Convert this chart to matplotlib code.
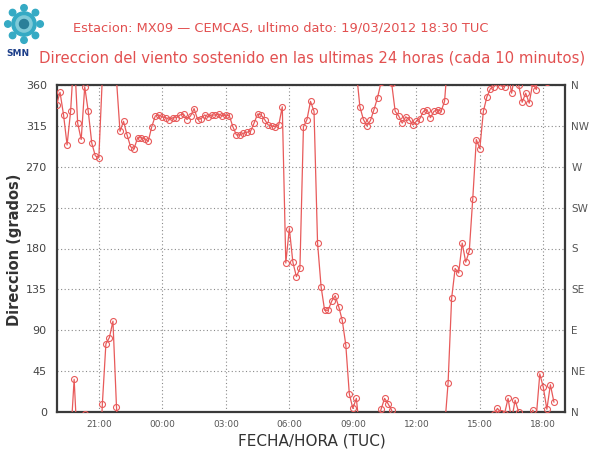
import matplotlib
matplotlib.use("Agg")
import matplotlib.pyplot as plt
import matplotlib.dates as mdates
from matplotlib.patches import Circle
import numpy as np
import pandas as pd

# Sustained wind direction (degrees), one reading every 10 minutes
direction = [
    338, 352, 327, 294, 331, 36, 318, 300, 358, 331,
    296, 282, 280, 9, 75, 82, 100, 6, 309, 320,
    305, 292, 290, 302, 302, 301, 298, 314, 326, 327,
    325, 324, 322, 324, 324, 327, 328, 322, 326, 334,
    322, 323, 327, 325, 327, 327, 328, 326, 327, 326,
    314, 305, 305, 307, 308, 309, 318, 328, 327, 322,
    316, 315, 314, 316, 336, 164, 202, 165, 149, 158,
    314, 322, 342, 331, 186, 138, 112, 112, 122, 128,
    116, 101, 74, 20, 4, 15, 336, 322, 315, 321,
    333, 346, 3, 15, 9, 2, 331, 326, 318, 325,
    322, 316, 320, 323, 331, 333, 324, 331, 333, 331,
    342, 32, 125, 158, 153, 186, 165, 177, 235, 300,
    290, 331, 347, 356, 358, 4, 359, 358, 15, 351,
    13, 360, 341, 351, 340, 2, 355, 42, 27, 3,
    30, 11,
]
first_reading = "2012-03-18 19:00"
window = ("2012-03-18 19:00", "2012-03-19 19:00")
degree_ticks = [0, 45, 90, 135, 180, 225, 270, 315, 360]
compass_labels = ["N", "NE", "E", "SE", "S", "SW", "W", "NW", "N"]

title_1 = "Estacion: MX09 \u2014 CEMCAS, ultimo dato: 19/03/2012 18:30 TUC"
title_2 = "Direccion del viento sostenido en las ultimas 24 horas (cada 10 minutos)"

times = pd.date_range(first_reading, periods=len(direction), freq="10min")

W, H = 590, 455
fig = plt.figure(figsize=(W / 100, H / 100), dpi=100)
fig.patch.set_facecolor("white")

left, right, top, bottom = 56.5, 564.5, 85, 412
ax = fig.add_axes([left / W, 1 - bottom / H, (right - left) / W, (bottom - top) / H])

red = "#e85a5a"
# Wrap-around drawing: unwrap the angle and repeat it every 360 degrees,
# the axis limits clip everything outside 0..360
unwrapped = np.unwrap(np.asarray(direction, dtype=float), period=360)
for k in range(-3, 4):
    ax.plot(times, unwrapped + 360 * k, color=red, lw=0.9,
            marker="o", ms=4.3, mfc="none", mec=red, mew=0.8, zorder=3)

ax.set_ylim(0, 360)
ax.set_xlim(pd.Timestamp(window[0]), pd.Timestamp(window[1]))
ax.set_yticks(degree_ticks)
ax.xaxis.set_major_locator(mdates.HourLocator(byhour=range(0, 24, 3)))
ax.xaxis.set_major_formatter(mdates.DateFormatter("%H:%M"))

ax.grid(True, color="#8a8a8a", lw=0.8, linestyle=(0, (1, 2.2)), zorder=1)
ax.tick_params(axis="y", length=0, labelsize=8, colors="#444444", pad=7)
ax.tick_params(axis="x", length=0, labelsize=6.5, colors="#555555", pad=6)
for sp in ax.spines.values():
    sp.set_color("#3a3a3a")
    sp.set_linewidth(1.6)

ax2 = ax.twinx()
ax2.set_ylim(0, 360)
ax2.set_yticks(degree_ticks)
ax2.set_yticklabels(compass_labels)
ax2.tick_params(axis="y", length=0, labelsize=7.5, colors="#555555", pad=5)
for sp in ax2.spines.values():
    sp.set_visible(False)

fig.text(15 / W, 1 - 250 / H, "Direccion (grados)", rotation=90, ha="center",
         va="center", fontsize=10.5, fontweight="bold", color="#333333")
fig.text(312 / W, 1 - 441 / H, "FECHA/HORA (TUC)", ha="center", va="center",
         fontsize=11, color="#333333")

fig.text(281 / W, 1 - 28 / H, title_1, ha="center", va="center",
         fontsize=9.4, color="#e25050")
fig.text(312 / W, 1 - 58 / H, title_2, ha="center", va="center",
         fontsize=10.7, color="#e25050")

# SMN emblem
lg = fig.add_axes([3 / W, 1 - 46 / H, 42 / W, 44 / H])
lg.set_xlim(-1.3, 1.3)
lg.set_ylim(-1.3, 1.3)
lg.set_aspect("equal")
lg.axis("off")
cyan = "#35aac4"
lg.add_patch(Circle((0, 0), 0.75, color=cyan))
lg.add_patch(Circle((0, 0), 0.5, color="#7fcad8"))
lg.add_patch(Circle((0, 0), 0.28, color="#2a7f99"))
for ang in np.linspace(0, 2 * np.pi, 8, endpoint=False):
    lg.add_patch(Circle((1.0 * np.cos(ang), 1.0 * np.sin(ang)), 0.2, color=cyan))
fig.text(18 / W, 1 - 53 / H, "SMN", ha="center", va="center", fontsize=6.5,
         fontweight="bold", color="#1d3f8a")

fig.savefig("out.png", dpi=100, facecolor="white")
